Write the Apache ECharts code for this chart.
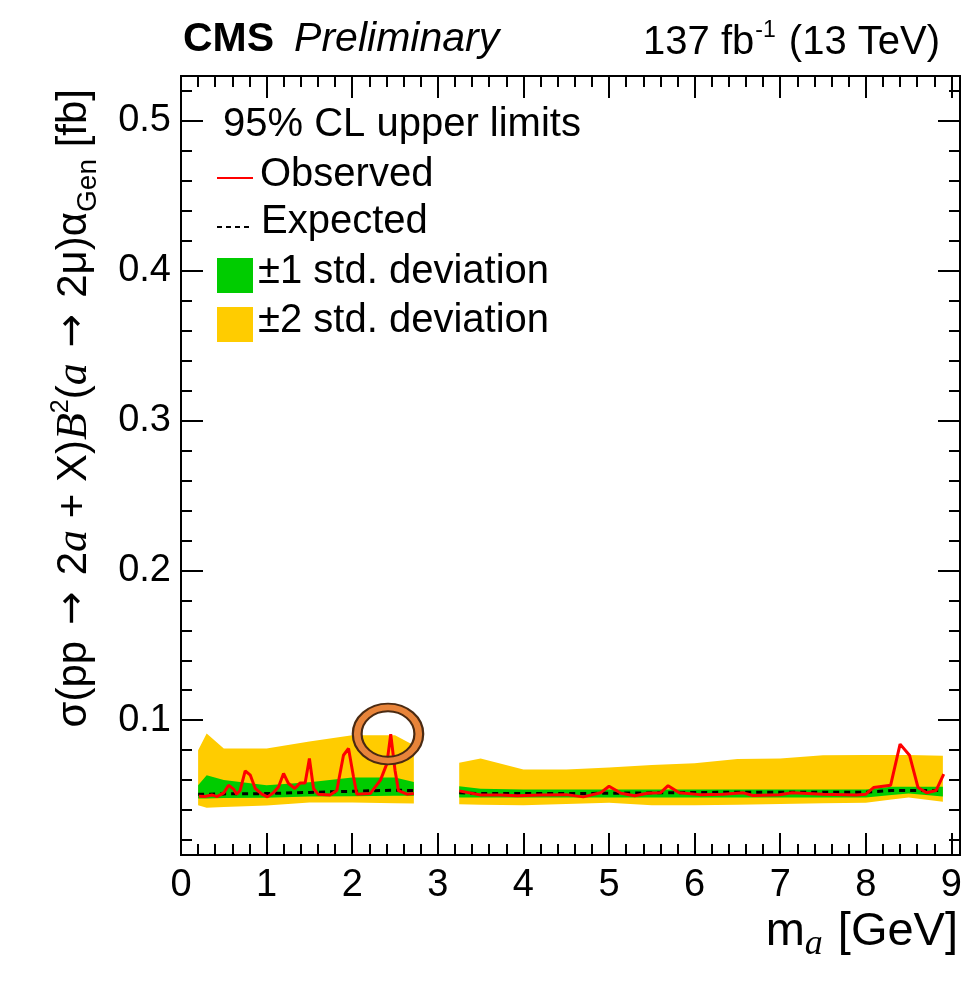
<!DOCTYPE html>
<html>
<head>
<meta charset="utf-8">
<script src="https://cdn.jsdelivr.net/npm/echarts@6/dist/echarts.min.js"></script>
<style>
  html, body { margin: 0; padding: 0; background: #fff; }
  #chart { width: 967px; height: 982px; }
</style>
</head>
<body>
<div id="chart"></div>
<script>
// mass points of the expected limit and its bands
const lowMass = [0.2, 0.3, 0.5, 1.0, 1.5, 2.0, 2.5, 2.72]
const lowExp = [0.0506, 0.0506, 0.0508, 0.0510, 0.0518, 0.0525, 0.0533, 0.0530]
const lowOneUp = [0.0566, 0.0633, 0.0600, 0.0566, 0.0585, 0.0617, 0.0617, 0.0588]
const lowOneDn = [0.0477, 0.0477, 0.0480, 0.0482, 0.0490, 0.0492, 0.0495, 0.0495]
const lowTwoUp = [0.0800, 0.0911, 0.0811, 0.0811, 0.0858, 0.0900, 0.0900, 0.0833]
const lowTwoDn = [0.0432, 0.0415, 0.0420, 0.0430, 0.0450, 0.0450, 0.0445, 0.0444]

const highMass = [3.25, 3.5, 4.0, 4.5, 5.0, 5.5, 6.0, 6.5, 7.0, 7.5, 8.0, 8.3, 8.5, 8.9]
const highExp = [0.0515, 0.0510, 0.0510, 0.0510, 0.0512, 0.0515, 0.0517, 0.0519, 0.0519, 0.0519, 0.0519, 0.0530, 0.0530, 0.0530]
const highOneUp = [0.0559, 0.0543, 0.0537, 0.0537, 0.0537, 0.0537, 0.0537, 0.0537, 0.0537, 0.0537, 0.0537, 0.0555, 0.0555, 0.0555]
const highOneDn = [0.0484, 0.0484, 0.0484, 0.0484, 0.0484, 0.0484, 0.0484, 0.0484, 0.0484, 0.0484, 0.0484, 0.0500, 0.0510, 0.0490]
const highTwoUp = [0.0715, 0.0744, 0.0670, 0.0670, 0.0684, 0.0700, 0.0712, 0.0740, 0.0744, 0.0766, 0.0768, 0.0768, 0.0768, 0.0763]
const highTwoDn = [0.0439, 0.0435, 0.0432, 0.0440, 0.0448, 0.0432, 0.0432, 0.0435, 0.0440, 0.0445, 0.0448, 0.0470, 0.0484, 0.0455]

// observed limit
const obsLowMass = [0.21, 0.28, 0.36, 0.42, 0.50, 0.556, 0.614, 0.65, 0.69, 0.75, 0.81, 0.867, 0.945, 1.01, 1.08, 1.14, 1.198, 1.256, 1.33, 1.39, 1.45, 1.50, 1.548, 1.60, 1.74, 1.82, 1.898, 1.957, 2.015, 2.054, 2.21, 2.33, 2.405, 2.45, 2.50, 2.54, 2.64, 2.72]
const obsLow = [0.0492, 0.0490, 0.0501, 0.0490, 0.0515, 0.0566, 0.0540, 0.0506, 0.0530, 0.0662, 0.0633, 0.0544, 0.0506, 0.0488, 0.0515, 0.0555, 0.0644, 0.0577, 0.0544, 0.0580, 0.0580, 0.0744, 0.0544, 0.0506, 0.0500, 0.0530, 0.0766, 0.0811, 0.0622, 0.0506, 0.0510, 0.0600, 0.0710, 0.0906, 0.0666, 0.0530, 0.0506, 0.0510]
const obsHighMass = [3.25, 3.50, 3.73, 3.93, 4.2, 4.5, 4.7, 4.9, 5.0, 5.14, 5.3, 5.45, 5.6, 5.69, 5.82, 6.06, 6.33, 6.57, 6.68, 6.99, 7.14, 7.5, 7.89, 8.0, 8.09, 8.29, 8.40, 8.51, 8.61, 8.71, 8.82, 8.91]
const obsHigh = [0.0528, 0.0500, 0.0500, 0.0495, 0.0500, 0.0503, 0.0488, 0.0515, 0.0559, 0.0512, 0.0495, 0.0512, 0.0515, 0.0563, 0.0515, 0.0503, 0.0506, 0.0515, 0.0497, 0.0502, 0.0515, 0.0506, 0.0500, 0.0506, 0.0550, 0.0566, 0.0840, 0.0766, 0.0550, 0.0515, 0.0530, 0.0640]

// tick positions
const xMajor = [0, 1, 2, 3, 4, 5, 6, 7, 8, 9]
const xMinor = [0.2, 0.4, 0.6, 0.8, 1.2, 1.4, 1.6, 1.8, 2.2, 2.4, 2.6, 2.8, 3.2, 3.4, 3.6, 3.8, 4.2, 4.4, 4.6, 4.8, 5.2, 5.4, 5.6, 5.8, 6.2, 6.4, 6.6, 6.8, 7.2, 7.4, 7.6, 7.8, 8.2, 8.4, 8.6, 8.8]
const yMajor = [0.1, 0.2, 0.3, 0.4, 0.5]
const yMinor = [0.02, 0.04, 0.06, 0.08, 0.12, 0.14, 0.16, 0.18, 0.22, 0.24, 0.26, 0.28, 0.32, 0.34, 0.36, 0.38, 0.42, 0.44, 0.46, 0.48, 0.52]

const X_MIN = 0, X_MAX = 9.1, Y_MIN = 0.01, Y_MAX = 0.53
const FONT = "'Liberation Sans', Arial, sans-serif"
const SERIF = "'Liberation Serif', 'DejaVu Serif', serif"
const ARROW = "'DejaVu Sans', sans-serif"

function zip(a, b) {
    return a.map(function (v, i) { return [v, b[i]] })
}

function makeXAxis(pos, ticks, len, labels) {
    return {
        type: 'value', position: pos, min: X_MIN, max: X_MAX,
        axisLine: { show: true, onZero: false, lineStyle: { color: '#000', width: 2 } },
        axisTick: { show: true, inside: true, length: len, customValues: ticks, lineStyle: { color: '#000', width: 2 } },
        axisLabel: labels ? {
            show: true, customValues: ticks, color: '#000', fontSize: 38, fontFamily: FONT, margin: 12
        } : { show: false },
        splitLine: { show: false }
    }
}

function makeYAxis(pos, ticks, len, labels) {
    return {
        type: 'value', position: pos, min: Y_MIN, max: Y_MAX,
        axisLine: { show: true, onZero: false, lineStyle: { color: '#000', width: 2 } },
        axisTick: { show: true, inside: true, length: len, customValues: ticks, lineStyle: { color: '#000', width: 2 } },
        axisLabel: labels ? {
            show: true, customValues: ticks, color: '#000', fontSize: 38, fontFamily: FONT, margin: 10,
            formatter: function (v) { return v.toFixed(1) }
        } : { show: false },
        splitLine: { show: false }
    }
}

// band drawn as a polygon: upper edge then lower edge reversed
function bandSeries(name, color, regions) {
    return {
        name: name,
        type: 'custom',
        coordinateSystem: 'cartesian2d',
        xAxisIndex: 0, yAxisIndex: 0,
        silent: true,
        data: regions.map(function (r) { return [r.m[0], r.hi[0]] }),
        renderItem: function (params, api) {
            const r = regions[params.dataIndex]
            const pts = []
            r.m.forEach(function (m, i) { pts.push(api.coord([m, r.hi[i]])) })
            for (let i = r.m.length - 1; i >= 0; i--) pts.push(api.coord([r.m[i], r.lo[i]]))
            return { type: 'polygon', shape: { points: pts }, style: { fill: color, stroke: null } }
        },
        z: 2
    }
}

function lineSeries(data, color, width, dash, z) {
    return {
        type: 'line', data: data, symbol: 'none', xAxisIndex: 0, yAxisIndex: 0,
        lineStyle: { color: color, width: width, type: dash },
        silent: true, animation: false, z: z
    }
}

const chart = echarts.init(document.getElementById('chart'), null, { renderer: 'canvas' })

const option = {
    animation: false,
    backgroundColor: '#fff',
    grid: { left: 181, top: 76, right: 7, bottom: 127, containLabel: false, outerBoundsMode: 'none' },
    xAxis: [
        makeXAxis('bottom', xMajor, 22, true),
        makeXAxis('bottom', xMinor, 11, false),
        makeXAxis('top', xMajor, 22, false),
        makeXAxis('top', xMinor, 11, false)
    ],
    yAxis: [
        makeYAxis('left', yMajor, 22, true),
        makeYAxis('left', yMinor, 11, false),
        makeYAxis('right', yMajor, 22, false),
        makeYAxis('right', yMinor, 11, false)
    ],
    series: [
        bandSeries('±2 std. deviation', '#ffcc00', [
            { m: lowMass, hi: lowTwoUp, lo: lowTwoDn },
            { m: highMass, hi: highTwoUp, lo: highTwoDn }
        ]),
        bandSeries('±1 std. deviation', '#00cc00', [
            { m: lowMass, hi: lowOneUp, lo: lowOneDn },
            { m: highMass, hi: highOneUp, lo: highOneDn }
        ]),
        lineSeries(zip(lowMass, lowExp), '#000', 3, [6, 5], 3),
        lineSeries(zip(highMass, highExp), '#000', 3, [6, 5], 3),
        lineSeries(zip(obsLowMass, obsLow), '#ff0000', 3, 'solid', 4),
        lineSeries(zip(obsHighMass, obsHigh), '#ff0000', 3, 'solid', 4)
    ],
    graphic: [
        // header
        {
            type: 'text', left: 183, top: 19, z: 10,
            style: {
                text: '{b|CMS}{i|Preliminary}',
                rich: {
                    b: { fontSize: 41, fontWeight: 'bold', fontFamily: FONT, fill: '#000', padding: [0, 20, 0, 0] },
                    i: { fontSize: 41, fontStyle: 'italic', fontFamily: FONT, fill: '#000' }
                }
            }
        },
        {
            type: 'text', right: 27, top: 19, z: 10,
            style: {
                text: '{n|137 fb}{s|-1}{n| (13 TeV)}',
                rich: {
                    n: { fontSize: 40, fontFamily: FONT, fill: '#000', lineHeight: 44, verticalAlign: 'bottom' },
                    s: { fontSize: 23, fontFamily: FONT, fill: '#000', lineHeight: 44, verticalAlign: 'top', padding: [0, 2, 0, 1] }
                }
            }
        },
        // y axis title
        {
            type: 'text', x: 74, y: 89, rotation: Math.PI / 2, z: 10,
            style: {
                text: '{n|σ(pp}{ar|→}{n|2}{it|a}{n| + X)}{it|B}{sup|2}{n|(}{it|a}{ar|→}{n|2μ)α}{sub|Gen}{n| [fb]}',
                align: 'right', verticalAlign: 'middle',
                rich: {
                    n: { fontSize: 42, fontFamily: FONT, fill: '#000', lineHeight: 58, verticalAlign: 'middle' },
                    ar: { fontSize: 40, fontFamily: ARROW, fill: '#000', lineHeight: 58, verticalAlign: 'middle', padding: [0, 16, 0, 16] },
                    it: { fontSize: 44, fontFamily: SERIF, fontStyle: 'italic', fill: '#000', lineHeight: 58, verticalAlign: 'middle' },
                    sup: { fontSize: 25, fontFamily: FONT, fill: '#000', lineHeight: 58, verticalAlign: 'top', padding: [4, 0, 0, 0] },
                    sub: { fontSize: 28, fontFamily: FONT, fill: '#000', lineHeight: 58, verticalAlign: 'bottom', padding: [0, 0, 1, 0] }
                }
            }
        },
        // x axis title
        {
            type: 'text', x: 958, y: 932, z: 10,
            style: {
                text: '{n|m}{it|a}{n| [GeV]}',
                align: 'right', verticalAlign: 'middle',
                rich: {
                    n: { fontSize: 47, fontFamily: FONT, fill: '#000', lineHeight: 62, verticalAlign: 'middle' },
                    it: { fontSize: 36, fontFamily: SERIF, fontStyle: 'italic', fill: '#000', lineHeight: 62, verticalAlign: 'bottom', padding: [0, 2, 0, 0] }
                }
            }
        },
        // legend
        {
            type: 'text', x: 223, y: 125, z: 10,
            style: { text: '95% CL upper limits', fontSize: 40, fontFamily: FONT, fill: '#000', verticalAlign: 'middle' }
        },
        { type: 'line', z: 10, shape: { x1: 217, y1: 178, x2: 253, y2: 178 }, style: { stroke: '#ff0000', lineWidth: 2 } },
        {
            type: 'text', x: 260, y: 175, z: 10,
            style: { text: 'Observed', fontSize: 40, fontFamily: FONT, fill: '#000', verticalAlign: 'middle' }
        },
        { type: 'line', z: 10, shape: { x1: 217, y1: 227, x2: 253, y2: 227 }, style: { stroke: '#000', lineWidth: 2, lineDash: [5, 4] } },
        {
            type: 'text', x: 261, y: 222, z: 10,
            style: { text: 'Expected', fontSize: 40, fontFamily: FONT, fill: '#000', verticalAlign: 'middle' }
        },
        { type: 'rect', z: 10, shape: { x: 217, y: 258, width: 36, height: 35 }, style: { fill: '#00cc00' } },
        {
            type: 'text', x: 258, y: 272, z: 10,
            style: { text: '±1 std. deviation', fontSize: 40, fontFamily: FONT, fill: '#000', verticalAlign: 'middle' }
        },
        { type: 'rect', z: 10, shape: { x: 217, y: 307, width: 36, height: 35 }, style: { fill: '#ffcc00' } },
        {
            type: 'text', x: 258, y: 321, z: 10,
            style: { text: '±2 std. deviation', fontSize: 40, fontFamily: FONT, fill: '#000', verticalAlign: 'middle' }
        },
        // highlighted excess ring
        {
            type: 'circle', z: 20, x: 388, y: 734, scaleX: 1.1, scaleY: 0.95,
            shape: { cx: 0, cy: 0, r: 28 },
            style: { fill: 'none', stroke: '#4a2a12', lineWidth: 10 }
        },
        {
            type: 'circle', z: 21, x: 388, y: 734, scaleX: 1.1, scaleY: 0.95,
            shape: { cx: 0, cy: 0, r: 28 },
            style: { fill: 'none', stroke: '#e8843a', lineWidth: 6 }
        }
    ]
}

chart.setOption(option)
</script>
</body>
</html>
